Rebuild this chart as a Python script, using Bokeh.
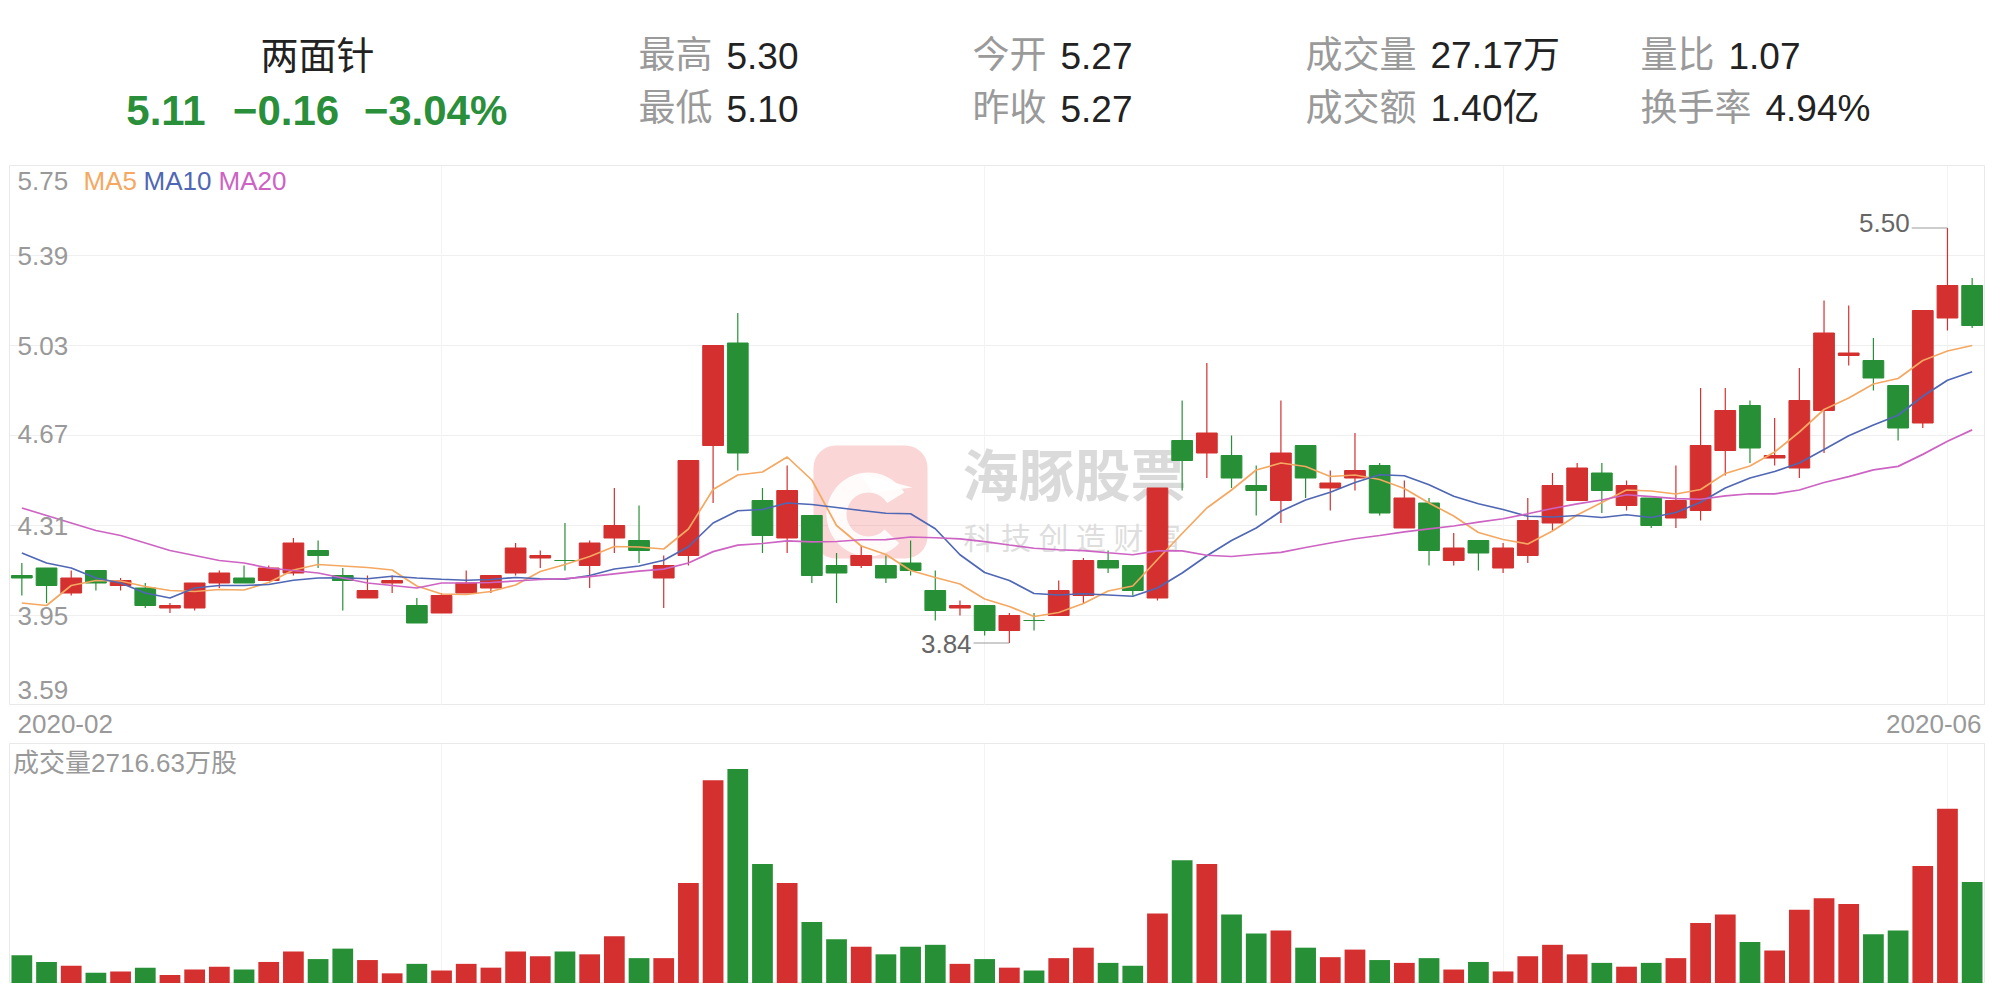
import numpy as np
import pandas as pd
from bokeh.plotting import figure
from bokeh.layouts import column
from bokeh.models import Range1d, FixedTicker, Grid
from bokeh.core.properties import value
from bokeh.embed import file_html
from bokeh.resources import INLINE

# ---------------- data ----------------
stock_name = "两面针"
quote = ["5.11", "−0.16", "−3.04%"]
info_labels = ["最高", "最低", "今开", "昨收", "成交量", "成交额", "量比", "换手率"]
info_values = ["5.30", "5.10", "5.27", "5.27", "27.17万", "1.40亿", "1.07", "4.94%"]

opens = [4.11, 4.14, 4.04, 4.13, 4.07, 4.06, 3.98, 3.98, 4.08, 4.10,
         4.09, 4.12, 4.21, 4.11, 4.02, 4.08, 3.99, 3.96, 4.04, 4.06,
         4.12, 4.18, 4.17, 4.15, 4.26, 4.25, 4.10, 4.19, 4.63, 5.04,
         4.41, 4.26, 4.35, 4.15, 4.15, 4.15, 4.16, 4.05, 3.98, 3.99,
         3.89, 3.93, 3.95, 4.03, 4.17, 4.15, 4.02, 4.65, 4.60, 4.59,
         4.47, 4.41, 4.63, 4.46, 4.50, 4.55, 4.30, 4.40, 4.17, 4.25,
         4.14, 4.19, 4.32, 4.41, 4.52, 4.39, 4.42, 4.34, 4.37, 4.61,
         4.79, 4.58, 4.54, 4.77, 4.99, 4.97, 4.87, 4.72, 5.14, 5.27]
highs = [4.16, 4.14, 4.13, 4.13, 4.10, 4.08, 4.00, 4.08, 4.13, 4.15,
         4.15, 4.26, 4.25, 4.14, 4.11, 4.11, 4.02, 4.04, 4.13, 4.11,
         4.24, 4.21, 4.32, 4.25, 4.46, 4.39, 4.19, 4.57, 5.03, 5.16,
         4.46, 4.55, 4.35, 4.20, 4.23, 4.19, 4.25, 4.13, 4.01, 3.99,
         3.96, 3.96, 4.09, 4.18, 4.21, 4.15, 4.46, 4.81, 4.96, 4.67,
         4.55, 4.81, 4.63, 4.53, 4.68, 4.56, 4.49, 4.42, 4.28, 4.25,
         4.24, 4.42, 4.52, 4.56, 4.56, 4.49, 4.42, 4.55, 4.86, 4.86,
         4.81, 4.74, 4.94, 5.21, 5.19, 5.06, 4.87, 5.17, 5.50, 5.30]
lows = [4.03, 4.00, 4.03, 4.05, 4.05, 3.98, 3.96, 3.97, 4.06, 4.08,
        4.09, 4.11, 4.14, 3.97, 4.02, 4.04, 3.92, 3.96, 4.04, 4.04,
        4.11, 4.14, 4.13, 4.06, 4.20, 4.16, 3.98, 4.15, 4.40, 4.53,
        4.20, 4.20, 4.08, 4.00, 4.14, 4.08, 4.11, 3.93, 3.95, 3.87,
        3.84, 3.89, 3.95, 4.00, 4.12, 4.03, 4.01, 4.45, 4.50, 4.46,
        4.35, 4.32, 4.42, 4.37, 4.45, 4.35, 4.30, 4.15, 4.15, 4.13,
        4.12, 4.16, 4.29, 4.41, 4.36, 4.37, 4.30, 4.30, 4.33, 4.51,
        4.56, 4.55, 4.50, 4.60, 4.95, 4.85, 4.65, 4.70, 5.09, 5.10]
closes = [4.10, 4.07, 4.10, 4.08, 4.09, 3.99, 3.99, 4.08, 4.12, 4.08,
          4.14, 4.24, 4.19, 4.09, 4.05, 4.09, 3.92, 4.03, 4.08, 4.11,
          4.22, 4.19, 4.17, 4.24, 4.31, 4.21, 4.15, 4.57, 5.03, 4.60,
          4.27, 4.45, 4.11, 4.12, 4.19, 4.10, 4.13, 3.97, 3.99, 3.89,
          3.95, 3.93, 4.05, 4.17, 4.14, 4.05, 4.46, 4.57, 4.68, 4.50,
          4.45, 4.60, 4.50, 4.48, 4.53, 4.36, 4.42, 4.21, 4.22, 4.20,
          4.22, 4.33, 4.47, 4.54, 4.45, 4.47, 4.31, 4.41, 4.63, 4.77,
          4.62, 4.59, 4.81, 5.08, 5.00, 4.90, 4.70, 5.17, 5.27, 5.11]
# volume in 万股
volumes = [756, 577, 475, 289, 323, 424, 229, 374, 450, 374,
           577, 857, 654, 934, 628, 272, 526, 348, 526, 424,
           857, 730, 857, 781, 1265, 679, 679, 2691, 5441, 5747,
           3200, 2691, 1647, 1188, 985, 781, 985, 1036, 526, 654,
           424, 348, 679, 959, 552, 475, 1876, 3302, 3200, 1851,
           1341, 1418, 959, 705, 908, 628, 552, 679, 374, 577,
           323, 730, 1036, 781, 552, 450, 552, 679, 1621, 1851,
           1112, 883, 1978, 2284, 2131, 1316, 1418, 3149, 4677, 2716.63]
# moving-average values before a full window exists
ma5_head = [4.00, 3.99, 4.07, 4.09]
ma10_head = [4.20, 4.16, 4.14, 4.10, 4.08, 4.04, 4.02, 4.06, 4.07]
ma20_head = [4.38, 4.35, 4.32, 4.29, 4.27, 4.24, 4.21, 4.19, 4.17, 4.16,
             4.14, 4.13, 4.12, 4.10, 4.08, 4.07, 4.06, 4.08, 4.08]
price_ticks = [3.59, 3.95, 4.31, 4.67, 5.03, 5.39, 5.75]
month_starts = [17, 39, 60, 78]
date_labels = ["2020-02", "2020-06"]
ma_names = ["MA5", "MA10", "MA20"]
volume_title = "成交量"
volume_unit = "万股"
watermark_title = "海豚股票"
watermark_sub = list("科技创造财富")

# ---------------- styles ----------------
FONT = "Liberation Sans, Noto Sans CJK SC"
RED = "#d3302f"
GREEN = "#279036"
MA_COLORS = ["#f4a862", "#4f67b4", "#cd63c3"]
GRID = "#efefef"
LEFT = 9          # frame left, in picture pixels
FW = 1975         # frame width
RIGHT = LEFT + FW

n = len(closes)
idx = np.arange(n)
s = pd.Series(closes)


def moving_average(window, head):
    r = s.rolling(window).mean().to_numpy()
    r[:window - 1] = head
    return r


ma_lines = [moving_average(5, ma5_head), moving_average(10, ma10_head), moving_average(20, ma20_head)]

colors = []
for i in range(n):
    if closes[i] > opens[i]:
        colors.append(RED)
    elif closes[i] < opens[i]:
        colors.append(GREEN)
    else:
        prev = closes[i - 1] if i else opens[i]
        colors.append(RED if closes[i] >= prev else GREEN)
body_top = np.maximum(opens, closes)
body_bot = np.minimum(opens, closes)


def base(h, xr, yr, outline=None):
    p = figure(frame_width=FW, frame_height=h, x_range=xr, y_range=yr,
               x_axis_location=None, y_axis_location=None,
               toolbar_location=None, output_backend="svg",
               min_border_left=LEFT, min_border_right=1, min_border_top=0, min_border_bottom=0,
               background_fill_color="white", border_fill_color="white",
               outline_line_color=outline)
    p.center = [r for r in p.center if not isinstance(r, Grid)]
    return p


def txt(p, x, y, t, size, color, align="left", bold=False, **kw):
    p.text(x=x, y=y, text=t, text_font=value(FONT), text_font_size=value(size),
           text_color=color, text_align=align, text_baseline="middle",
           text_font_style="bold" if bold else "normal", **kw)


# ---------------- header ----------------
hdr = base(165, Range1d(LEFT, RIGHT), Range1d(165, 0))
txt(hdr, [317], [55], [stock_name], "38px", "#222222", "center")
txt(hdr, [165.5, 285.5, 435], [110] * 3, quote, "42px", "#2a8f3a", "center", bold=True)
col_x = [638, 638, 972, 972, 1305, 1305, 1640, 1640]
row_y = [55, 108] * 4
txt(hdr, col_x, row_y, info_labels, "37px", "#9a9a9a")
val_x = [x + 37 * len(l) + 14 for x, l in zip(col_x, info_labels)]
txt(hdr, val_x, row_y, info_values, "37px", "#222222")

# ---------------- main candlestick panel ----------------
main = base(540, Range1d(-0.5, n - 0.5), Range1d(price_ticks[0], price_ticks[-1]), outline="#e9e9e9")
main.extra_x_ranges = {"px": Range1d(LEFT, RIGHT)}
main.extra_y_ranges = {"py": Range1d(705, 165)}
main.add_layout(Grid(dimension=1, ticker=FixedTicker(ticks=price_ticks), grid_line_color=GRID))
main.add_layout(Grid(dimension=0, ticker=FixedTicker(ticks=month_starts), grid_line_color="#f3f3f3"))

# watermark
main.quad(left=[813], right=[927], top=[445], bottom=[558], fill_color="#f08080", fill_alpha=0.32,
          line_color=None, border_radius=22, x_range_name="px", y_range_name="py")
main.annular_wedge(x=[868], y=[514], inner_radius=22, outer_radius=42, start_angle=0.55,
                   end_angle=2 * np.pi - 0.75, fill_color="white", fill_alpha=0.9, line_color=None,
                   x_range_name="px", y_range_name="py")
main.patch(x=[860, 912, 872], y=[473, 487, 492], fill_color="white", fill_alpha=0.9, line_color=None,
           x_range_name="px", y_range_name="py")
main.text(x=[962], y=[476], text=[watermark_title], text_font=value(FONT), text_font_size=value("56px"),
          text_font_style="bold", text_color="#d4d4d4", text_alpha=0.85, text_baseline="middle",
          x_range_name="px", y_range_name="py")
main.text(x=[978 + 37.5 * k for k in range(len(watermark_sub))], y=[538] * len(watermark_sub),
          text=watermark_sub, text_font=value(FONT), text_font_size=value("30px"),
          text_color="#d8d8d8", text_alpha=0.85, text_baseline="middle", text_align="center",
          x_range_name="px", y_range_name="py")

# candles
main.segment(x0=idx, y0=lows, x1=idx, y1=highs, color=colors, line_width=1.2)
main.vbar(x=idx, width=0.84, top=body_top, bottom=body_bot, fill_color=colors, line_color=colors, line_width=1)

# moving averages
for ma, c in zip(ma_lines, MA_COLORS):
    main.line(idx, ma, line_color=c, line_width=1.7)

# y labels inside the plot
y_off = [-16, 0, 0, -2, 0, 0, 15]
txt(main, [-0.5] * len(price_ticks), price_ticks, [f"{t:.2f}" for t in price_ticks], "26px", "#999999",
    x_offset=8, y_offset=y_off)
# MA legend
main.text(x=[83, 143, 218], y=[180] * 3, text=ma_names, text_font=value(FONT), text_font_size=value("26px"),
          text_color=MA_COLORS, text_baseline="middle", x_range_name="px", y_range_name="py")

# max / min markers
imax = int(np.argmax(highs))
imin = int(np.argmin(lows))
mk_x = [imax, imin]
mk_y = [highs[imax], lows[imin]]
main.segment(x0=[x - 1.45 for x in mk_x], y0=mk_y, x1=mk_x, y1=mk_y, line_color="#9a9a9a", line_width=1)
txt(main, [x - 1.45 for x in mk_x], mk_y, [f"{v:.2f}" for v in mk_y], "26px", "#666666", "right",
    x_offset=-2, y_offset=[-5, 1])

# ---------------- date row ----------------
drow = base(38, Range1d(LEFT, RIGHT), Range1d(743, 705))
txt(drow, [17], [723], [date_labels[0]], "26px", "#999999", "left")
txt(drow, [RIGHT - 3], [723], [date_labels[1]], "26px", "#999999", "right")

# ---------------- volume panel ----------------
vmax = 6427
vol = base(240, Range1d(-0.5, n - 0.5), Range1d(0, vmax), outline="#e9e9e9")
vol.add_layout(Grid(dimension=0, ticker=FixedTicker(ticks=month_starts), grid_line_color="#f3f3f3"))
vol.vbar(x=idx, width=0.84, top=volumes, bottom=0, fill_color=colors, line_color=None)
txt(vol, [-0.5], [vmax], [f"{volume_title}{volumes[-1]:.2f}{volume_unit}"], "26px", "#999999",
    x_offset=3.5, y_offset=19)

layout = column(hdr, main, drow, vol, spacing=0)
open("out.html", "w").write(file_html(layout, INLINE))
